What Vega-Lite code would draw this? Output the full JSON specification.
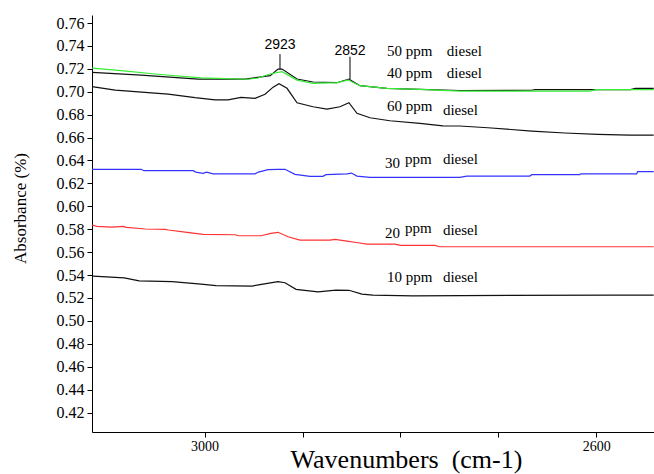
{
  "$schema": "https://vega.github.io/schema/vega-lite/v6.json",
  "width": 562,
  "height": 417,
  "autosize": {"type": "none"},
  "padding": {"left": 92, "top": 15, "right": 0, "bottom": 42},
  "background": "white",
  "config": {"view": {"stroke": null}},
  "datasets": {
    "curves": [
      {"s": "50", "w": 3114.8, "a": 0.7170},
      {"s": "50", "w": 3064.8, "a": 0.7146},
      {"s": "50", "w": 3006.6, "a": 0.7111},
      {"s": "50", "w": 2958.7, "a": 0.7111},
      {"s": "50", "w": 2933.0, "a": 0.7140},
      {"s": "50", "w": 2925.0, "a": 0.7198},
      {"s": "50", "w": 2920.9, "a": 0.7198},
      {"s": "50", "w": 2905.6, "a": 0.7111},
      {"s": "50", "w": 2889.3, "a": 0.7085},
      {"s": "50", "w": 2864.8, "a": 0.7079},
      {"s": "50", "w": 2852.6, "a": 0.7111},
      {"s": "50", "w": 2841.3, "a": 0.7053},
      {"s": "50", "w": 2813.8, "a": 0.7030},
      {"s": "50", "w": 2780.1, "a": 0.7021},
      {"s": "50", "w": 2739.3, "a": 0.7011},
      {"s": "50", "w": 2665.8, "a": 0.7013},
      {"s": "50", "w": 2662.8, "a": 0.7018},
      {"s": "50", "w": 2565.0, "a": 0.7018},
      {"s": "50", "w": 2560.0, "a": 0.7030},
      {"s": "50", "w": 2541.3, "a": 0.7030},
      {"s": "40", "w": 3114.8, "a": 0.7207},
      {"s": "40", "w": 3085.2, "a": 0.7184},
      {"s": "40", "w": 3050.5, "a": 0.7155},
      {"s": "40", "w": 3003.6, "a": 0.7122},
      {"s": "40", "w": 2955.6, "a": 0.7109},
      {"s": "40", "w": 2945.4, "a": 0.7120},
      {"s": "40", "w": 2933.2, "a": 0.7155},
      {"s": "40", "w": 2920.9, "a": 0.7175},
      {"s": "40", "w": 2905.6, "a": 0.7102},
      {"s": "40", "w": 2889.3, "a": 0.7074},
      {"s": "40", "w": 2864.8, "a": 0.7079},
      {"s": "40", "w": 2853.6, "a": 0.7102},
      {"s": "40", "w": 2841.3, "a": 0.7053},
      {"s": "40", "w": 2813.8, "a": 0.7030},
      {"s": "40", "w": 2780.1, "a": 0.7021},
      {"s": "40", "w": 2739.3, "a": 0.7006},
      {"s": "40", "w": 2606.6, "a": 0.7006},
      {"s": "40", "w": 2600.0, "a": 0.7018},
      {"s": "40", "w": 2541.3, "a": 0.7019},
      {"s": "60", "w": 3115.0, "a": 0.7044},
      {"s": "60", "w": 3091.3, "a": 0.7015},
      {"s": "60", "w": 3037.2, "a": 0.6980},
      {"s": "60", "w": 3009.7, "a": 0.6948},
      {"s": "60", "w": 2989.3, "a": 0.6930},
      {"s": "60", "w": 2976.0, "a": 0.6930},
      {"s": "60", "w": 2962.8, "a": 0.6951},
      {"s": "60", "w": 2948.5, "a": 0.6943},
      {"s": "60", "w": 2938.3, "a": 0.6978},
      {"s": "60", "w": 2930.0, "a": 0.7040},
      {"s": "60", "w": 2924.0, "a": 0.7070},
      {"s": "60", "w": 2915.8, "a": 0.7030},
      {"s": "60", "w": 2905.6, "a": 0.6904},
      {"s": "60", "w": 2889.3, "a": 0.6869},
      {"s": "60", "w": 2875.0, "a": 0.6849},
      {"s": "60", "w": 2861.7, "a": 0.6869},
      {"s": "60", "w": 2852.6, "a": 0.6904},
      {"s": "60", "w": 2844.4, "a": 0.6812},
      {"s": "60", "w": 2831.1, "a": 0.6773},
      {"s": "60", "w": 2810.7, "a": 0.6747},
      {"s": "60", "w": 2780.1, "a": 0.6724},
      {"s": "60", "w": 2756.6, "a": 0.6703},
      {"s": "60", "w": 2739.3, "a": 0.6701},
      {"s": "60", "w": 2710.7, "a": 0.6686},
      {"s": "60", "w": 2665.8, "a": 0.6657},
      {"s": "60", "w": 2632.1, "a": 0.6640},
      {"s": "60", "w": 2598.5, "a": 0.6628},
      {"s": "60", "w": 2565.8, "a": 0.6622},
      {"s": "60", "w": 2541.3, "a": 0.6622},
      {"s": "30", "w": 3115.0, "a": 0.6323},
      {"s": "30", "w": 3064.8, "a": 0.6323},
      {"s": "30", "w": 3062.0, "a": 0.6311},
      {"s": "30", "w": 3011.7, "a": 0.6311},
      {"s": "30", "w": 3009.0, "a": 0.6299},
      {"s": "30", "w": 3001.5, "a": 0.6288},
      {"s": "30", "w": 2998.0, "a": 0.6299},
      {"s": "30", "w": 2991.3, "a": 0.6284},
      {"s": "30", "w": 2948.5, "a": 0.6284},
      {"s": "30", "w": 2945.0, "a": 0.6299},
      {"s": "30", "w": 2935.2, "a": 0.6320},
      {"s": "30", "w": 2925.0, "a": 0.6323},
      {"s": "30", "w": 2917.9, "a": 0.6323},
      {"s": "30", "w": 2907.7, "a": 0.6279},
      {"s": "30", "w": 2892.3, "a": 0.6262},
      {"s": "30", "w": 2879.1, "a": 0.6262},
      {"s": "30", "w": 2876.0, "a": 0.6276},
      {"s": "30", "w": 2854.6, "a": 0.6284},
      {"s": "30", "w": 2850.0, "a": 0.6290},
      {"s": "30", "w": 2844.4, "a": 0.6264},
      {"s": "30", "w": 2831.1, "a": 0.6253},
      {"s": "30", "w": 2739.3, "a": 0.6253},
      {"s": "30", "w": 2732.1, "a": 0.6264},
      {"s": "30", "w": 2667.9, "a": 0.6264},
      {"s": "30", "w": 2665.8, "a": 0.6276},
      {"s": "30", "w": 2616.8, "a": 0.6276},
      {"s": "30", "w": 2616.0, "a": 0.6284},
      {"s": "30", "w": 2558.7, "a": 0.6284},
      {"s": "30", "w": 2557.7, "a": 0.6302},
      {"s": "30", "w": 2541.3, "a": 0.6302},
      {"s": "20", "w": 3115.0, "a": 0.5837},
      {"s": "20", "w": 3110.0, "a": 0.5825},
      {"s": "20", "w": 3095.4, "a": 0.5819},
      {"s": "20", "w": 3083.2, "a": 0.5825},
      {"s": "20", "w": 3080.0, "a": 0.5816},
      {"s": "20", "w": 3060.7, "a": 0.5802},
      {"s": "20", "w": 3040.3, "a": 0.5799},
      {"s": "20", "w": 3037.0, "a": 0.5793},
      {"s": "20", "w": 3019.9, "a": 0.5775},
      {"s": "20", "w": 3001.5, "a": 0.5755},
      {"s": "20", "w": 2968.9, "a": 0.5752},
      {"s": "20", "w": 2965.0, "a": 0.5743},
      {"s": "20", "w": 2942.3, "a": 0.5743},
      {"s": "20", "w": 2932.1, "a": 0.5764},
      {"s": "20", "w": 2925.0, "a": 0.5773},
      {"s": "20", "w": 2914.8, "a": 0.5734},
      {"s": "20", "w": 2902.6, "a": 0.5705},
      {"s": "20", "w": 2871.9, "a": 0.5705},
      {"s": "20", "w": 2866.8, "a": 0.5711},
      {"s": "20", "w": 2854.6, "a": 0.5696},
      {"s": "20", "w": 2843.4, "a": 0.5682},
      {"s": "20", "w": 2834.2, "a": 0.5670},
      {"s": "20", "w": 2805.6, "a": 0.5670},
      {"s": "20", "w": 2800.0, "a": 0.5659},
      {"s": "20", "w": 2764.8, "a": 0.5659},
      {"s": "20", "w": 2760.0, "a": 0.5647},
      {"s": "20", "w": 2541.3, "a": 0.5647},
      {"s": "10", "w": 3114.0, "a": 0.5391},
      {"s": "10", "w": 3082.1, "a": 0.5376},
      {"s": "10", "w": 3066.8, "a": 0.5350},
      {"s": "10", "w": 3033.2, "a": 0.5342},
      {"s": "10", "w": 3003.6, "a": 0.5321},
      {"s": "10", "w": 2988.3, "a": 0.5307},
      {"s": "10", "w": 2951.5, "a": 0.5304},
      {"s": "10", "w": 2940.3, "a": 0.5321},
      {"s": "10", "w": 2925.0, "a": 0.5342},
      {"s": "10", "w": 2917.9, "a": 0.5333},
      {"s": "10", "w": 2906.6, "a": 0.5275},
      {"s": "10", "w": 2884.2, "a": 0.5254},
      {"s": "10", "w": 2865.8, "a": 0.5269},
      {"s": "10", "w": 2852.6, "a": 0.5267},
      {"s": "10", "w": 2839.3, "a": 0.5234},
      {"s": "10", "w": 2828.1, "a": 0.5225},
      {"s": "10", "w": 2787.2, "a": 0.5219},
      {"s": "10", "w": 2581.1, "a": 0.5225},
      {"s": "10", "w": 2541.3, "a": 0.5225}
    ],
    "labels": [
      {"t": "50 ppm", "w": 2813.8, "a": 0.7358},
      {"t": "diesel", "w": 2752.6, "a": 0.7358},
      {"t": "40 ppm", "w": 2813.8, "a": 0.7161},
      {"t": "diesel", "w": 2752.6, "a": 0.7161},
      {"t": "60 ppm", "w": 2813.8, "a": 0.6875},
      {"t": "diesel", "w": 2756.6, "a": 0.6840},
      {"t": "30", "w": 2815.8, "a": 0.6380},
      {"t": "ppm", "w": 2795.4, "a": 0.6413},
      {"t": "diesel", "w": 2756.6, "a": 0.6413},
      {"t": "20", "w": 2815.8, "a": 0.5767},
      {"t": "ppm", "w": 2795.4, "a": 0.5810},
      {"t": "diesel", "w": 2756.6, "a": 0.5793},
      {"t": "10 ppm", "w": 2813.8, "a": 0.5380},
      {"t": "diesel", "w": 2756.6, "a": 0.5380}
    ],
    "peakrules": [
      {"w": 2923.0, "a": 0.7329, "a2": 0.7196},
      {"w": 2851.5, "a": 0.7306, "a2": 0.7109}
    ],
    "peaktexts": [
      {"t": "2923", "w": 2923.0, "a": 0.7408},
      {"t": "2852", "w": 2851.5, "a": 0.7358}
    ]
  },
  "encoding": {
    "x": {
      "field": "w", "type": "quantitative",
      "scale": {"domain": [2541, 3115], "reverse": true, "nice": false, "zero": false},
      "axis": {
        "values": [3000, 2900, 2800, 2700, 2600],
        "labelExpr": "datum.value == 3000 || datum.value == 2600 ? datum.value : ''",
        "grid": false,
        "domainColor": "#000", "tickColor": "#000", "tickSize": 5,
        "labelFont": "Liberation Sans Narrow", "labelFontSize": 14, "labelColor": "#000",
        "labelPadding": 2,
        "title": "Wavenumbers\u00a0\u00a0(cm-1)",
        "titleFont": "Liberation Serif", "titleFontSize": 26, "titleFontWeight": "normal",
        "titleColor": "#000", "titleX": 314, "titleY": 35, "titleBaseline": "alphabetic", "titleAlign": "center"
      }
    },
    "y": {
      "field": "a", "type": "quantitative",
      "scale": {"domain": [0.403, 0.767], "nice": false, "zero": false},
      "axis": {
        "values": [0.42, 0.44, 0.46, 0.48, 0.5, 0.52, 0.54, 0.56, 0.58, 0.6, 0.62, 0.64, 0.66, 0.68, 0.7, 0.72, 0.74, 0.76],
        "format": ".2f",
        "grid": false,
        "labelOverlap": false,
        "domainColor": "#000", "tickColor": "#000", "tickSize": 5,
        "labelFont": "Liberation Sans Narrow", "labelFontSize": 16, "labelColor": "#000",
        "labelPadding": 3,
        "title": "Absorbance (%)",
        "titleFont": "Liberation Sans Narrow", "titleFontSize": 17, "titleFontWeight": "normal",
        "titleColor": "#000", "titleAngle": -90, "titleX": -72, "titleY": 193,
        "titleAlign": "center", "titleBaseline": "middle"
      }
    }
  },
  "layer": [
    {
      "data": {"name": "curves"},
      "mark": {"type": "line", "strokeWidth": 1.2, "interpolate": "linear"},
      "encoding": {
        "color": {
          "field": "s", "type": "nominal",
          "scale": {"domain": ["50", "40", "60", "30", "20", "10"], "range": ["#111111", "#33ee33", "#111111", "#3333ff", "#ff3333", "#111111"]},
          "legend": null
        }
      }
    },
    {
      "data": {"name": "peakrules"},
      "mark": {"type": "rule", "color": "#000", "strokeWidth": 1},
      "encoding": {
        "y2": {"field": "a2"}
      }
    },
    {
      "data": {"name": "peaktexts"},
      "mark": {"type": "text", "font": "Liberation Sans", "fontSize": 14, "color": "#000", "align": "center", "baseline": "middle"},
      "encoding": {
        "text": {"field": "t"}
      }
    },
    {
      "data": {"name": "labels"},
      "mark": {"type": "text", "font": "Liberation Serif", "fontSize": 15, "color": "#000", "align": "left", "baseline": "middle"},
      "encoding": {
        "text": {"field": "t"}
      }
    }
  ]
}
